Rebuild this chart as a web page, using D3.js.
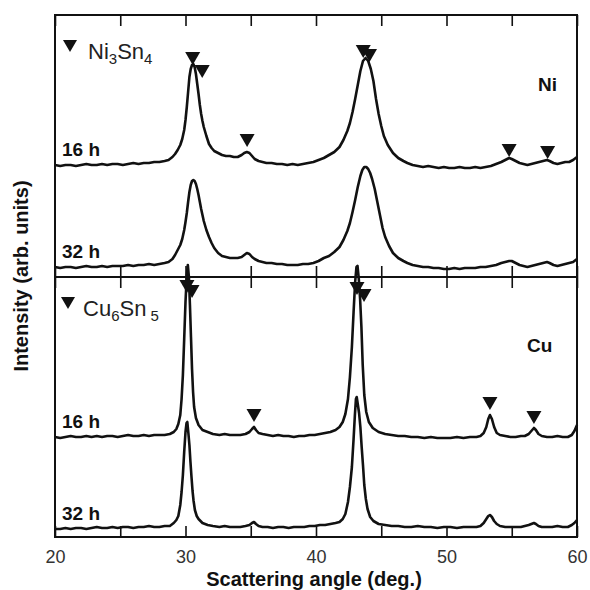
<!DOCTYPE html>
<html>
<head>
<meta charset="utf-8">
<script src="https://cdn.jsdelivr.net/npm/d3@7"></script>
<style>
body { margin: 0; background: #fff; }
svg { font-family: "Liberation Sans", Arial, sans-serif; }
</style>
</head>
<body>
<div id="chart"></div>
<script>
// XRD patterns, [angle (deg), intensity (arb. units)]
var ni16h = [[20.0,112],[20.4,111],[20.8,112],[21.2,112],[21.6,111],[22.0,112],[22.4,113],[22.8,112],[23.2,112],[23.6,113],[24.0,112],[24.4,113],[24.8,113],[25.2,112],[25.6,113],[26.0,114],[26.4,113],[26.8,114],[27.2,114],[27.6,115],[28.0,115],[28.4,116],[28.7,117],[29.0,120],[29.2,123],[29.4,127],[29.6,132],[29.75,138],[29.9,147],[30.0,157],[30.1,170],[30.2,185],[30.3,200],[30.4,208],[30.5,212],[30.6,213],[30.7,210],[30.8,203],[30.9,193],[31.0,183],[31.1,172],[31.2,163],[31.3,156],[31.4,150],[31.6,141],[31.8,133],[32.0,129],[32.2,126],[32.5,124],[32.8,122],[33.1,121],[33.4,121],[33.7,120],[34.0,120],[34.3,122],[34.5,124],[34.7,125],[34.9,124],[35.1,121],[35.3,118],[35.6,116],[35.9,115],[36.2,114],[36.6,114],[37.0,113],[37.4,113],[37.8,112],[38.2,113],[38.6,112],[39.0,113],[39.4,114],[39.8,115],[40.2,117],[40.6,119],[41.0,122],[41.4,125],[41.8,130],[42.1,137],[42.4,146],[42.6,154],[42.8,165],[43.0,178],[43.2,192],[43.4,206],[43.6,216],[43.8,219],[44.0,216],[44.2,208],[44.4,196],[44.6,178],[44.8,163],[45.0,151],[45.2,141],[45.5,132],[45.9,124],[46.3,119],[46.7,116],[47.0,114],[47.4,112],[47.8,111],[48.2,110],[48.6,111],[49.0,110],[49.4,109],[49.8,110],[50.2,109],[50.6,109],[51.0,110],[51.4,109],[51.8,109],[52.2,110],[52.6,109],[53.0,110],[53.4,111],[53.8,113],[54.2,115],[54.5,117],[54.8,119],[55.0,118],[55.3,116],[55.6,114],[55.9,113],[56.2,112],[56.5,113],[56.8,114],[57.1,115],[57.4,116],[57.7,117],[57.9,116],[58.2,114],[58.5,113],[58.8,114],[59.1,115],[59.4,115],[59.7,117],[60.0,120]];

var ni32h = [[20.0,10],[20.4,9],[20.8,10],[21.2,10],[21.6,9],[22.0,10],[22.4,11],[22.8,10],[23.2,10],[23.6,11],[24.0,10],[24.4,11],[24.8,11],[25.2,11],[25.6,12],[26.0,11],[26.4,12],[26.8,12],[27.2,13],[27.6,12],[28.0,13],[28.4,14],[28.7,15],[29.0,18],[29.2,22],[29.4,27],[29.6,32],[29.75,38],[29.9,47],[30.0,55],[30.1,64],[30.2,75],[30.3,85],[30.4,92],[30.5,96],[30.6,97],[30.7,96],[30.8,93],[30.9,88],[31.0,82],[31.1,75],[31.2,68],[31.3,62],[31.4,56],[31.6,47],[31.8,40],[32.0,34],[32.2,29],[32.5,24],[32.8,21],[33.1,20],[33.4,19],[33.7,19],[34.0,19],[34.3,20],[34.5,22],[34.7,24],[34.9,23],[35.1,20],[35.3,18],[35.6,16],[35.9,15],[36.2,14],[36.6,14],[37.0,13],[37.4,13],[37.8,12],[38.2,12],[38.6,12],[39.0,13],[39.4,13],[39.8,14],[40.2,16],[40.6,19],[41.0,21],[41.4,25],[41.8,30],[42.1,37],[42.4,46],[42.6,54],[42.8,65],[43.0,77],[43.2,90],[43.4,101],[43.55,107],[43.7,110],[43.85,110],[44.0,108],[44.15,104],[44.3,98],[44.5,88],[44.7,75],[44.9,62],[45.1,49],[45.3,40],[45.6,31],[45.9,24],[46.3,19],[46.7,16],[47.0,14],[47.4,12],[47.8,11],[48.2,10],[48.6,10],[49.0,9],[49.4,9],[49.8,8],[50.2,8],[50.6,9],[51.0,8],[51.4,9],[51.8,9],[52.2,9],[52.6,10],[53.0,10],[53.4,11],[53.8,12],[54.2,14],[54.5,15],[54.8,16],[55.0,16],[55.3,14],[55.6,12],[55.9,11],[56.2,10],[56.5,11],[56.8,12],[57.1,13],[57.4,14],[57.7,15],[57.9,14],[58.2,12],[58.5,11],[58.8,12],[59.1,13],[59.4,14],[59.7,15],[60.0,18]];

var cu16h = [[20.0,100],[20.4,99],[20.8,100],[21.2,101],[21.6,100],[22.0,100],[22.4,101],[22.8,100],[23.2,101],[23.6,100],[24.0,101],[24.4,101],[24.8,100],[25.2,101],[25.6,102],[26.0,101],[26.4,101],[26.8,102],[27.2,101],[27.6,102],[28.0,102],[28.4,102],[28.8,103],[29.1,105],[29.3,108],[29.45,113],[29.6,122],[29.7,138],[29.8,162],[29.9,198],[30.0,235],[30.1,262],[30.18,272],[30.26,260],[30.34,232],[30.42,200],[30.5,168],[30.58,145],[30.66,130],[30.8,119],[31.0,112],[31.3,107],[31.7,105],[32.1,103],[32.6,102],[33.0,103],[33.4,102],[33.8,102],[34.2,102],[34.6,103],[34.9,105],[35.1,108],[35.25,110],[35.4,107],[35.6,104],[35.9,103],[36.3,102],[36.7,101],[37.1,102],[37.5,101],[37.9,101],[38.3,100],[38.7,101],[39.1,101],[39.5,102],[39.9,102],[40.3,103],[40.7,104],[41.1,105],[41.5,107],[41.8,110],[42.05,115],[42.25,123],[42.45,138],[42.6,160],[42.75,190],[42.88,225],[43.0,255],[43.1,270],[43.18,271],[43.28,258],[43.38,238],[43.48,210],[43.58,172],[43.7,142],[43.85,125],[44.05,115],[44.35,109],[44.8,105],[45.3,103],[45.8,102],[46.3,101],[46.8,101],[47.3,100],[47.8,100],[48.3,99],[48.8,100],[49.3,99],[49.8,99],[50.3,99],[50.8,100],[51.3,99],[51.8,100],[52.3,100],[52.6,101],[52.85,104],[53.05,110],[53.2,118],[53.33,122],[53.48,118],[53.65,110],[53.85,104],[54.1,102],[54.5,101],[54.9,100],[55.3,100],[55.7,101],[56.0,101],[56.3,103],[56.5,106],[56.7,109],[56.85,107],[57.05,103],[57.3,101],[57.7,100],[58.1,100],[58.5,101],[58.9,100],[59.3,100],[59.6,102],[59.8,106],[60.0,112]];

var cu32h = [[20.0,8],[20.4,8],[20.8,9],[21.2,8],[21.6,9],[22.0,9],[22.4,8],[22.8,9],[23.2,10],[23.6,9],[24.0,9],[24.4,10],[24.8,9],[25.2,10],[25.6,10],[26.0,9],[26.4,10],[26.8,10],[27.2,11],[27.6,10],[28.0,10],[28.4,11],[28.8,11],[29.1,14],[29.3,17],[29.45,21],[29.6,32],[29.7,45],[29.8,62],[29.9,85],[30.0,105],[30.08,114],[30.14,115],[30.22,104],[30.3,92],[30.38,75],[30.46,60],[30.54,46],[30.62,36],[30.72,27],[30.86,21],[31.0,18],[31.3,14],[31.7,12],[32.1,11],[32.6,10],[33.0,11],[33.4,10],[33.8,10],[34.2,10],[34.6,11],[34.9,12],[35.1,14],[35.25,15],[35.4,13],[35.6,11],[35.9,10],[36.3,10],[36.7,9],[37.1,10],[37.5,10],[37.9,9],[38.3,10],[38.7,10],[39.1,10],[39.5,11],[39.9,11],[40.3,12],[40.7,12],[41.1,13],[41.5,14],[41.8,15],[42.05,18],[42.25,23],[42.45,35],[42.6,50],[42.75,70],[42.88,98],[42.98,122],[43.06,138],[43.12,140],[43.2,133],[43.3,124],[43.4,110],[43.5,90],[43.6,72],[43.7,52],[43.82,38],[43.95,28],[44.15,20],[44.4,16],[44.8,13],[45.3,12],[45.8,11],[46.3,11],[46.8,10],[47.3,10],[47.8,11],[48.3,10],[48.8,10],[49.3,9],[49.8,10],[50.3,10],[50.8,9],[51.3,10],[51.8,10],[52.3,10],[52.6,11],[52.85,14],[53.05,18],[53.2,21],[53.33,22],[53.48,20],[53.65,16],[53.85,13],[54.1,11],[54.5,10],[54.9,10],[55.3,10],[55.7,10],[56.0,11],[56.3,12],[56.5,13],[56.7,14],[56.85,13],[57.05,11],[57.3,10],[57.7,10],[58.1,10],[58.5,11],[58.9,10],[59.3,10],[59.6,12],[59.8,14],[60.0,17]];

// phase reflections (triangle tip position)
var ni3sn4Marks = [[30.55,212],[31.28,199],[34.72,130],[43.62,219],[44.1,215],[54.8,120],[57.75,118]];
var cu6sn5Marks = [[30.11,244],[30.5,239],[35.25,115],[43.14,242],[43.68,235],[53.33,127],[56.7,113]];

var xTicks = [20, 25, 30, 35, 40, 45, 50, 55, 60];
var xTickLabels = [20, 30, 40, 50, 60];
var timeLabels = ["16 h", "32 h"];

var width = 590, height = 590;
var plotLeft = 55, plotRight = 577;

var svg = d3.select("#chart").append("svg")
    .attr("width", width)
    .attr("height", height);

var x = d3.scaleLinear().domain([20, 60]).range([plotLeft, plotRight]);

var panels = [
    { top: 15, bottom: 277, max: 262, series: [ni16h, ni32h], marks: ni3sn4Marks,
      phase: ["Ni", "3", "Sn", "4"], metal: "Ni" },
    { top: 277, bottom: 537, max: 260, series: [cu16h, cu32h], marks: cu6sn5Marks,
      phase: ["Cu", "6", "Sn", "5"], metal: "Cu" }
];

var tri = "M-7.5,-13L7.5,-13L0,0Z";

panels.forEach(function(p, i) {
    var y = d3.scaleLinear().domain([0, p.max]).range([p.bottom, p.top]);
    var g = svg.append("g");

    // inward ticks on top and bottom edges
    var topAxis = d3.axisTop(x).tickValues(xTicks).tickSize(-11).tickFormat("");
    var botAxis = d3.axisBottom(x).tickValues(xTicks).tickSize(-11).tickPadding(13)
        .tickFormat(function(d) { return (i == 1 && xTickLabels.indexOf(d) >= 0) ? d : ""; });

    g.append("g").attr("transform", "translate(0," + p.top + ")").call(topAxis);
    g.append("g").attr("transform", "translate(0," + p.bottom + ")").call(botAxis);
    g.selectAll(".domain").remove();
    g.selectAll(".tick line").attr("stroke", "#111").attr("stroke-width", 1.6);
    g.selectAll(".tick text")
        .attr("font-family", "'Liberation Sans', Arial, sans-serif")
        .attr("font-size", 18)
        .attr("fill", "#333");

    g.append("rect")
        .attr("x", plotLeft).attr("y", p.top)
        .attr("width", plotRight - plotLeft).attr("height", p.bottom - p.top)
        .attr("fill", "none").attr("stroke", "#111").attr("stroke-width", 2);

    var line = d3.line()
        .x(function(d) { return x(d[0]); })
        .y(function(d) { return y(d[1]); });

    g.selectAll(".trace").data(p.series).enter().append("path")
        .attr("class", "trace")
        .attr("d", line)
        .attr("fill", "none")
        .attr("stroke", "#111")
        .attr("stroke-width", 2.6)
        .attr("stroke-linejoin", "round");

    g.selectAll(".mark").data(p.marks).enter().append("path")
        .attr("class", "mark")
        .attr("d", tri)
        .attr("transform", function(d) { return "translate(" + x(d[0]) + "," + y(d[1]) + ")"; })
        .attr("fill", "#111");

    // time labels, just above each baseline
    var baseY = [y(p.series[0][0][1]), y(p.series[1][0][1])];
    timeLabels.forEach(function(t, j) {
        g.append("text")
            .attr("x", 62).attr("y", baseY[j] - 9)
            .attr("font-size", 19).attr("font-weight", "bold").attr("fill", "#111")
            .text(t);
    });

    // phase legend
    var lx = i == 0 ? 70 : 68, ly = p.top + (i == 0 ? 25 : 20);
    g.append("path").attr("d", "M-7,0L7,0L0,12Z")
        .attr("transform", "translate(" + lx + "," + ly + ")")
        .attr("fill", "#111");
    var lt = g.append("text")
        .attr("x", lx + (i == 0 ? 18 : 15)).attr("y", ly + 19)
        .attr("font-size", 22).attr("fill", "#222");
    lt.append("tspan").text(p.phase[0]);
    lt.append("tspan").attr("font-size", 15).attr("dy", 5).text(p.phase[1]);
    lt.append("tspan").attr("dy", -5).text(p.phase[2]);
    lt.append("tspan").attr("font-size", 15).attr("dy", 5).attr("dx", i == 1 ? 4 : 0).text(p.phase[3]);

    g.append("text")
        .attr("x", i == 0 ? 538 : 527).attr("y", p.top + (i == 0 ? 76 : 75))
        .attr("font-size", 19).attr("font-weight", "bold").attr("fill", "#111")
        .text(p.metal);
});

svg.append("text")
    .attr("x", 314).attr("y", 586)
    .attr("text-anchor", "middle")
    .attr("font-size", 20).attr("font-weight", "bold").attr("fill", "#111")
    .text("Scattering angle (deg.)");

svg.append("text")
    .attr("transform", "translate(28,276) rotate(-90)")
    .attr("text-anchor", "middle")
    .attr("font-size", 20).attr("font-weight", "bold").attr("fill", "#111")
    .text("Intensity (arb. units)");
</script>
</body>
</html>
